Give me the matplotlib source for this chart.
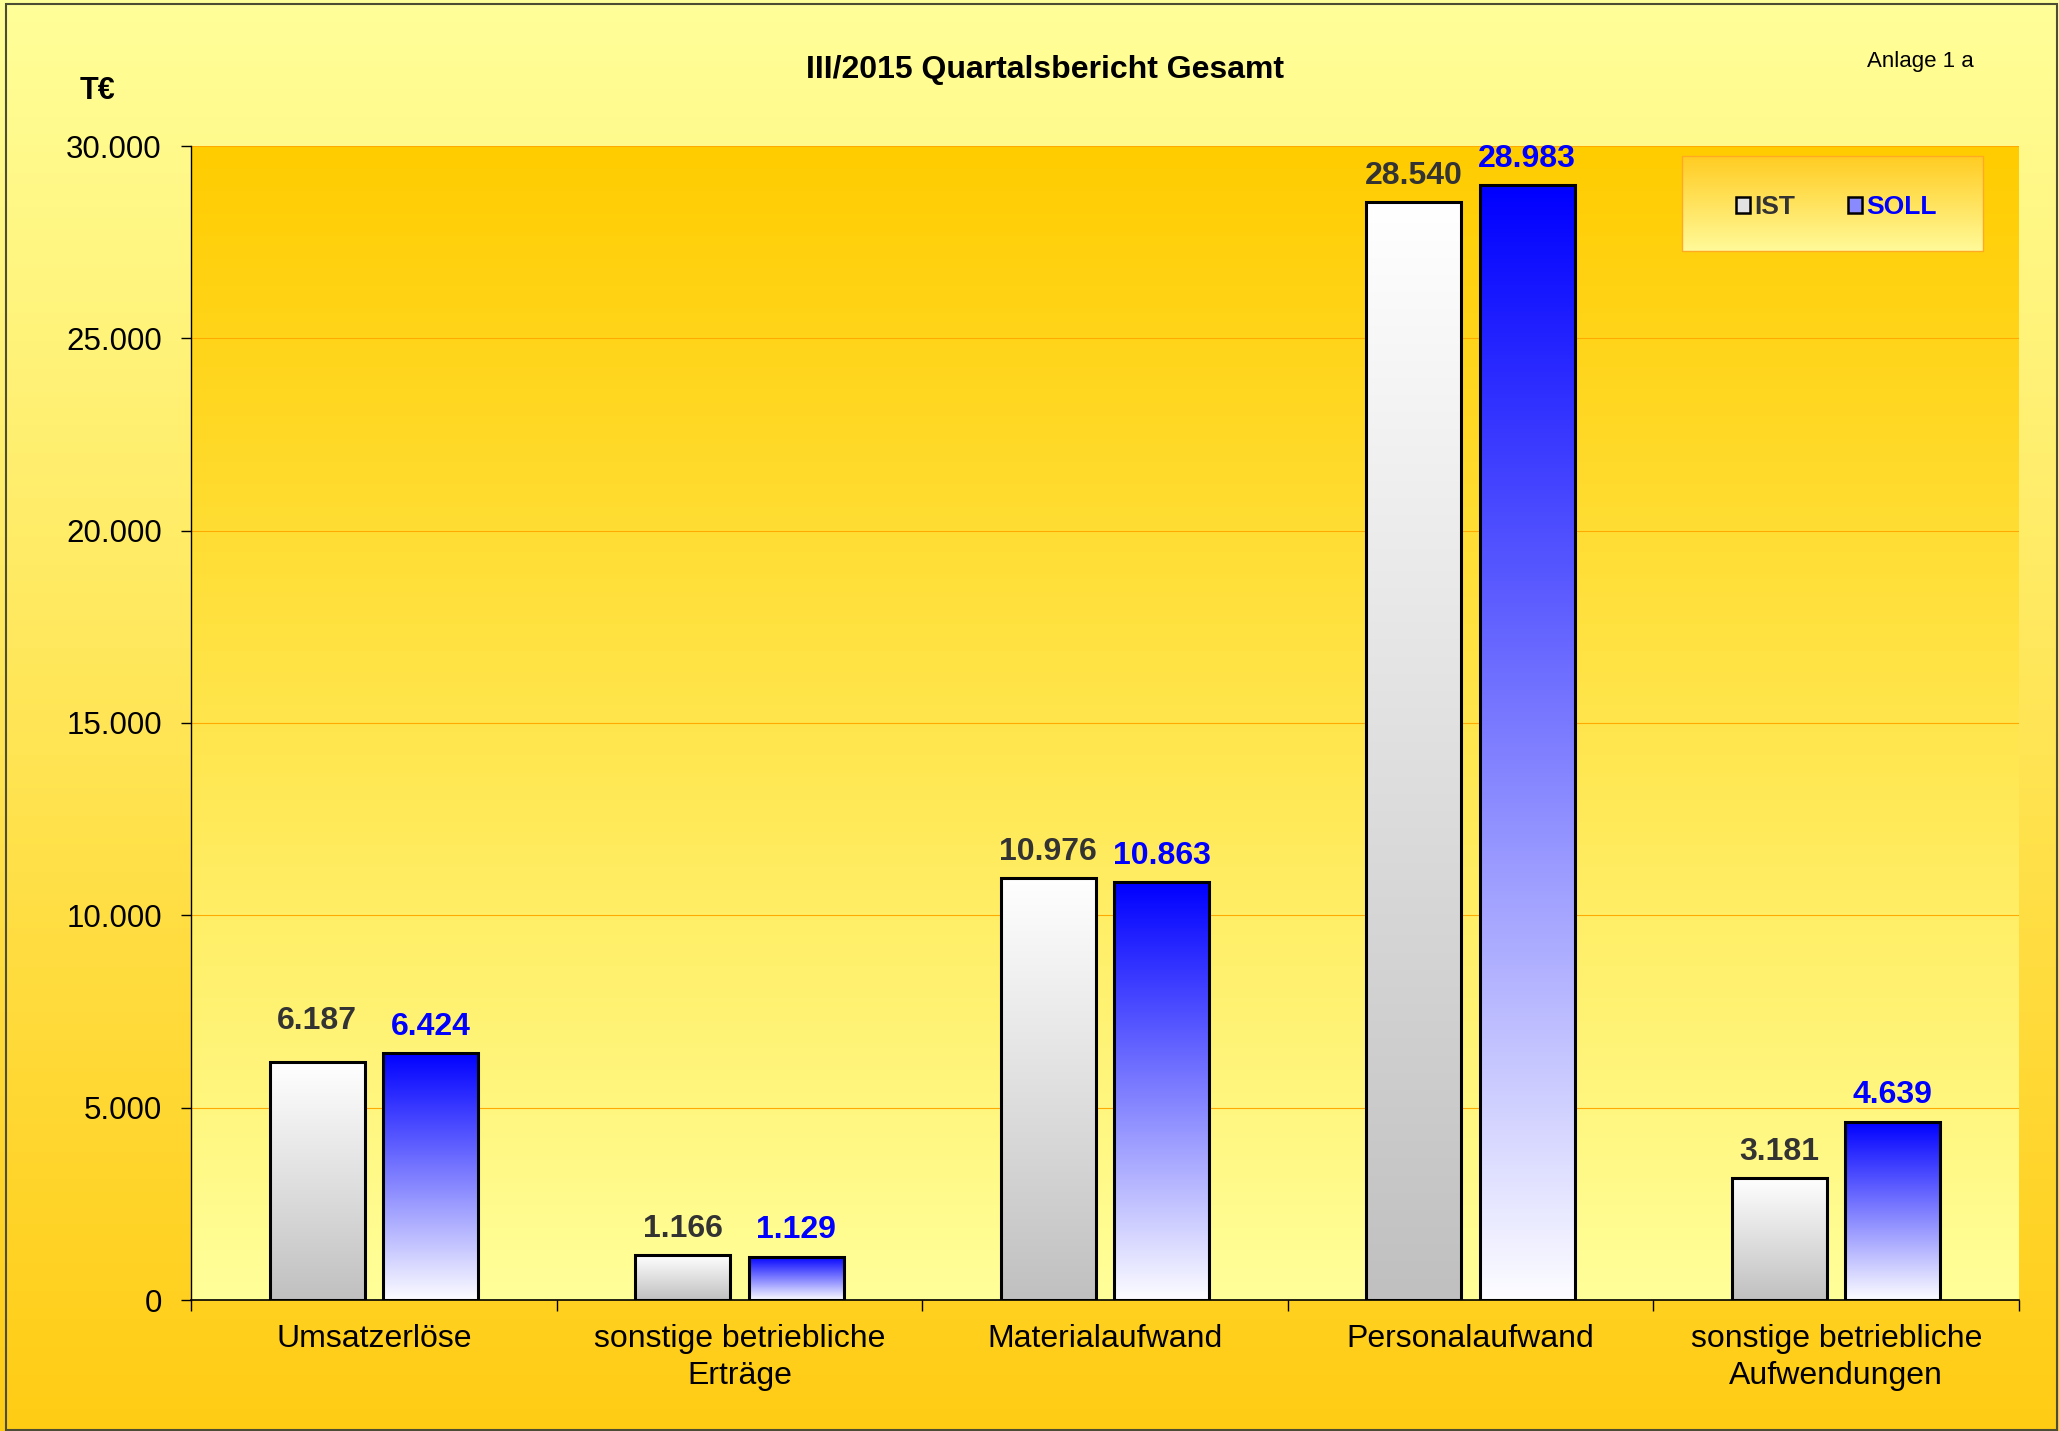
import matplotlib
matplotlib.use('Agg')
import matplotlib.pyplot as plt
import numpy as np
from matplotlib.colors import LinearSegmentedColormap
from matplotlib.patches import Patch, Rectangle
from matplotlib.ticker import FuncFormatter, FixedLocator

plt.rcParams['font.family'] = ['Liberation Sans', 'DejaVu Sans']

# data
categories = ['Umsatzerlöse', 'sonstige betriebliche\nErträge', 'Materialaufwand',
              'Personalaufwand', 'sonstige betriebliche\nAufwendungen']
ist = [6187, 1166, 10976, 28540, 3181]
soll = [6424, 1129, 10863, 28983, 4639]
series_names = ['IST', 'SOLL']
y_ticks = [0, 5000, 10000, 15000, 20000, 25000, 30000]

# colour ramps (index 0 = bottom of image, last = top)
fig_cmap = LinearSegmentedColormap.from_list('figbg', ['#FFCC14', '#FFFF99'])
plot_cmap = LinearSegmentedColormap.from_list('plotbg', ['#FFFF99', '#FFCC00'])
legend_cmap = LinearSegmentedColormap.from_list('legbg', ['#FFFA99', '#FFCC22'])
ist_cmap = LinearSegmentedColormap.from_list('ist', ['#C0C0C0', '#FFFFFF'])
soll_cmap = LinearSegmentedColormap.from_list('soll', ['#FCFCFF', '#0000FF'])

grad = np.linspace(0, 1, 256).reshape(-1, 1)

fig = plt.figure(figsize=(20.59, 14.31), dpi=100)

# figure background
bg = fig.add_axes([0, 0, 1, 1], zorder=-10)
bg.imshow(grad, cmap=fig_cmap, aspect='auto', extent=(0, 1, 0, 1), origin='lower')
bg.set_xlim(0, 1)
bg.set_ylim(0, 1)
bg.axis('off')
bg.add_patch(Rectangle((6 / 2059, 1 / 1431), 2051 / 2059, 1426 / 1431, fill=False,
                       edgecolor='#4D4D33', linewidth=1.5))

ax = fig.add_axes([191 / 2059, 1 - 1300 / 1431, (2019 - 191) / 2059, (1300 - 146) / 1431])
ax.set_facecolor('none')
ax.imshow(grad, cmap=plot_cmap, aspect='auto', extent=(0, 1, 0, 1), origin='lower',
          transform=ax.transAxes, zorder=0)

x = np.arange(len(categories))
w = 0.26
off = 0.155
bars_ist = ax.bar(x - off, ist, w, facecolor='none', edgecolor='black', linewidth=2.2, zorder=3)
bars_soll = ax.bar(x + off, soll, w, facecolor='none', edgecolor='black', linewidth=2.2, zorder=3)

for bars, cmap in [(bars_ist, ist_cmap), (bars_soll, soll_cmap)]:
    for b in bars:
        x0 = b.get_x()
        ax.imshow(grad, cmap=cmap, aspect='auto', origin='lower',
                  extent=(x0, x0 + b.get_width(), 0, b.get_height()), zorder=2)

fmt = lambda v: f'{v:,.0f}'.replace(',', '.')
for k, (bars, vals, col) in enumerate([(bars_ist, ist, '#333333'), (bars_soll, soll, '#0000FF')]):
    for i, (b, v) in enumerate(zip(bars, vals)):
        dy = 8 + (10.5 if (k, i) == (0, 0) else 0)  # first label sits higher in the original
        ax.annotate(fmt(v), (b.get_x() + b.get_width() / 2, v), xytext=(0, dy),
                    textcoords='offset points', ha='center', va='bottom',
                    fontsize=23, fontweight='bold', color=col, zorder=5)

ax.set_xlim(-0.5, len(categories) - 0.5)
ax.set_ylim(0, 30000)
ax.yaxis.set_major_locator(FixedLocator(y_ticks))
ax.yaxis.set_major_formatter(FuncFormatter(lambda v, p: fmt(v)))
ax.tick_params(axis='y', labelsize=22.5, length=7, width=1, direction='out', pad=14)
ax.set_xticks(x)
ax.set_xticklabels(categories, fontsize=23)
ax.set_xticks(np.arange(-0.5, len(categories)), minor=True)
ax.tick_params(axis='x', which='major', length=0, pad=17)
ax.tick_params(axis='x', which='minor', length=8, width=1, direction='out')
for lab in ax.get_xticklabels():
    lab.set_linespacing(1.32)

ax.grid(axis='y', color='#FFAA00', linewidth=0.8, zorder=1)
ax.set_axisbelow(True)
for s in ['top', 'right']:
    ax.spines[s].set_visible(False)
ax.spines['left'].set_linewidth(1)
ax.spines['bottom'].set_linewidth(1.2)

# legend box
lx0, lx1 = (1682 - 191) / 1828, (1983 - 191) / 1828
ly0, ly1 = (1300 - 251) / 1154, (1300 - 156) / 1154
ax.imshow(grad, cmap=legend_cmap, aspect='auto', origin='lower',
          extent=(lx0, lx1, ly0, ly1), transform=ax.transAxes, zorder=6)
ax.add_patch(Rectangle((lx0, ly0), lx1 - lx0, ly1 - ly0, transform=ax.transAxes,
                       fill=False, edgecolor='#FFAA22', linewidth=1, zorder=7))
handles = [Patch(facecolor='#E2E2E2', edgecolor='black', linewidth=1.8),
           Patch(facecolor='#8A8AFF', edgecolor='black', linewidth=1.8)]
leg = ax.legend(handles, series_names, loc='center',
                bbox_to_anchor=((lx0 + lx1) / 2 + 0.002, (ly0 + ly1) / 2 - 0.003),
                ncol=2, frameon=False, handlelength=0.55, handleheight=0.55, handletextpad=0.15,
                columnspacing=2.0, prop={'size': 19, 'weight': 'bold'})
leg.set_zorder(8)
for t, c in zip(leg.get_texts(), ['#333333', '#0000FF']):
    t.set_color(c)

fig.text(1045 / 2059, 1 - 70 / 1431, 'III/2015 Quartalsbericht Gesamt', ha='center', va='center',
         fontsize=23, fontweight='bold')
fig.text(97 / 2059, 1 - 91 / 1431, 'T€', ha='center', va='center', fontsize=22, fontweight='bold')
fig.text(1920 / 2059, 1 - 62 / 1431, 'Anlage 1 a', ha='center', va='center', fontsize=16)

fig.savefig('out.png', dpi=100)
